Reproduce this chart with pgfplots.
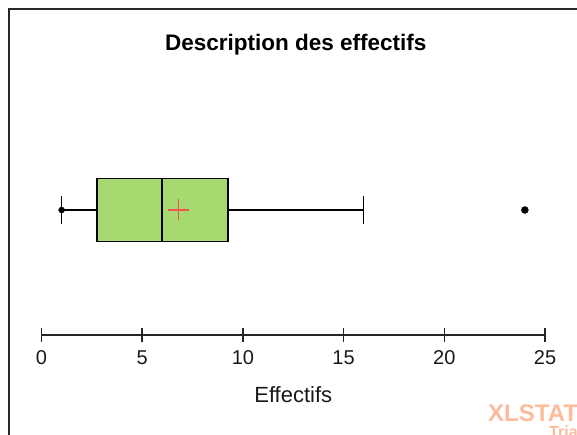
\documentclass[border=0pt]{standalone}
\usepackage{pgfplots}
\pgfplotsset{compat=1.18}
\usepgfplotslibrary{statistics}
\usepackage{fontspec}
\setmainfont{Liberation Sans}

\definecolor{boxgreen}{RGB}{166,217,112}
\definecolor{meanred}{RGB}{240,85,75}
\definecolor{wmark}{RGB}{252,188,155}
\definecolor{framegray}{RGB}{40,40,40}

\begin{document}
\begin{tikzpicture}
\useasboundingbox (0pt,0pt) rectangle (577pt,435pt);
\clip (0pt,0pt) rectangle (577pt,435pt);

% outer frame of the chart area
\draw[framegray, line width=2pt] (9pt,-20pt) |- (620pt,426pt);

\begin{axis}[
  at={(41.5pt,100pt)}, anchor=south west,
  scale only axis,
  width=503.5pt, height=275pt,
  xmin=0, xmax=25,
  ymin=0, ymax=275,
  axis y line=none,
  axis x line=bottom,
  x axis line style={-, line width=1.5pt, black!85},
  xtick={0,5,10,15,20,25},
  tick align=center,
  major tick length=14pt,
  every tick/.style={line width=1.5pt, black!85},
  clip=false,
  /pgf/number format/assume math mode=true,
  xticklabel style={font=\fontsize{20}{23}\selectfont, text=black!90, yshift=-5pt},
  xlabel={Effectifs},
  xlabel style={at={(axis description cs:0.5,0)}, anchor=center, yshift=-60pt,
                font=\fontsize{22}{26}\selectfont, text=black!90},
  title={\textbf{Description des effectifs}},
  title style={at={(axis description cs:0.505,1)}, anchor=center, yshift=9pt,
               font=\fontsize{22.5}{26}\selectfont},
]
  % box and whiskers
  \addplot[
    boxplot prepared={
      draw direction=x,
      lower whisker=1,
      lower quartile=2.75,
      median=6,
      upper quartile=9.25,
      upper whisker=16,
      draw position=125,
      box extend=63,
      whisker extend=28,
    },
    boxplot/every median/.style={line width=2pt},
    draw=black, fill=boxgreen, line width=1.5pt, solid,
  ] coordinates {};

  % mean
  \addplot[only marks, mark=+, mark size=10.5pt, meanred, line width=1.8pt]
    coordinates {(6.8,125)};

  % minimum and maximum
  \addplot[only marks, mark=*, mark size=3pt, black]
    coordinates {(1,125)};
  \addplot[only marks, mark=*, mark size=3.5pt, black]
    coordinates {(24,125)};
\end{axis}

% watermark
\node[anchor=base west, text=wmark, font=\fontsize{24}{28}\selectfont\bfseries, inner sep=0pt]
  at (488pt,13pt) {XLSTAT};
\node[anchor=base west, text=wmark, font=\fontsize{16}{18}\selectfont\bfseries, inner sep=0pt]
  at (549pt,-3pt) {Trial};
\end{tikzpicture}
\end{document}
